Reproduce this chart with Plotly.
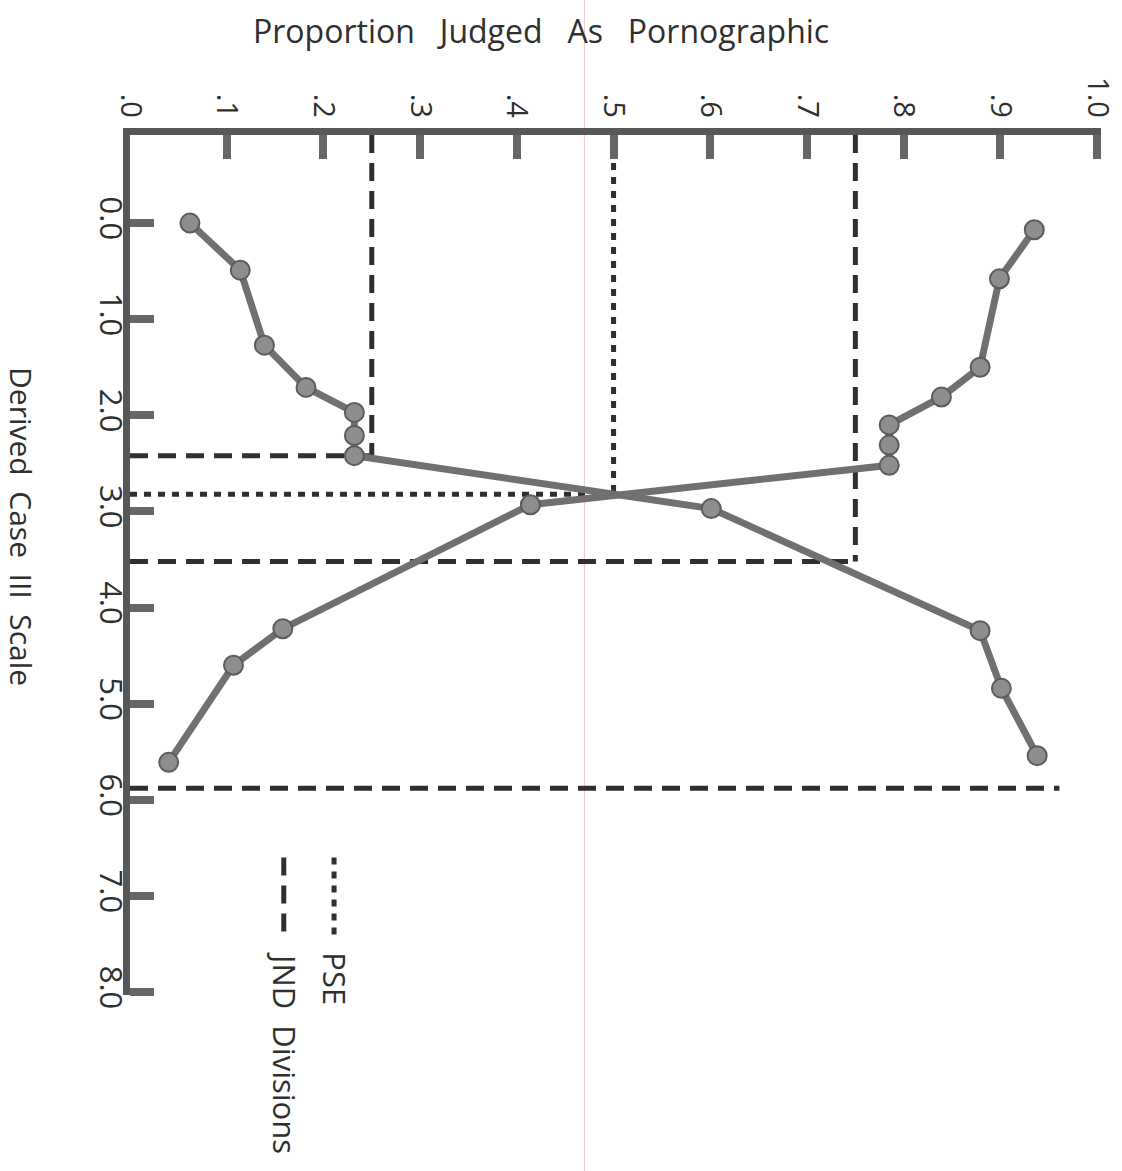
import plotly.graph_objects as go

# Derived Case III scale values (vertical axis) and judged proportions (horizontal axis)
rising_scale = [0.0, 0.49, 1.27, 1.71, 1.97, 2.21, 2.42, 2.97, 4.24, 4.84, 5.54]
rising_prop = [0.062, 0.114, 0.139, 0.182, 0.232, 0.232, 0.232, 0.601, 0.879, 0.901, 0.938]

falling_scale = [0.07, 0.58, 1.50, 1.81, 2.10, 2.31, 2.52, 2.93, 4.22, 4.60, 5.61]
falling_prop = [0.935, 0.899, 0.879, 0.839, 0.785, 0.785, 0.785, 0.414, 0.158, 0.107, 0.040]

# PSE and JND division points: (proportion, scale value)
pse_prop, pse_scale = 0.50, 2.82
jnd_props = [0.25, 0.75]
jnd_scales = [2.42, 3.52]
jnd_last_scale = 5.88
jnd_last_end = 0.961

prop_ticks = [0.0, 0.1, 0.2, 0.3, 0.4, 0.5, 0.6, 0.7, 0.8, 0.9, 1.0]
prop_labels = [".0", ".1", ".2", ".3", ".4", ".5", ".6", ".7", ".8", ".9", "1.0"]
scale_ticks = [0, 1, 2, 3, 4, 5, 6, 7, 8]
scale_labels = ["0.0", "1.0", "2.0", "3.0", "4.0", "5.0", "6.0", "7.0", "8.0"]

TOP = -0.916
FONT = "Open Sans"
INK = "#2f2f2f"
DASH = "18px,10px"
DOT = "7px,7px"
SP = "\u00a0"

fig = go.Figure()


def ref_line(xs, ys, dash):
    fig.add_trace(go.Scatter(x=xs, y=ys, mode="lines", hoverinfo="skip",
                             line=dict(color=INK, width=5, dash=dash),
                             showlegend=False))


# JND division guides
for p, s in zip(jnd_props, jnd_scales):
    ref_line([p, p], [TOP, s], DASH)
    ref_line([0, p], [s, s], DASH)
ref_line([0, jnd_last_end], [jnd_last_scale, jnd_last_scale], DASH)

# PSE guide
ref_line([pse_prop, pse_prop], [TOP, pse_scale], DOT)
ref_line([0, pse_prop], [pse_scale, pse_scale], DOT)

# Key for the guide line styles
ref_line([0.211, 0.211], [6.60, 7.43], DOT)
ref_line([0.159, 0.159], [6.60, 7.43], DASH)

for xs, ys in [(rising_prop, rising_scale), (falling_prop, falling_scale)]:
    fig.add_trace(go.Scatter(
        x=xs, y=ys, mode="lines+markers", showlegend=False,
        line=dict(color="#707070", width=7),
        marker=dict(size=19, color="#8e8e8e", line=dict(color="#5c5c5c", width=2)),
    ))

fig.update_layout(
    width=1122, height=1171,
    margin=dict(l=130, r=21, t=135, b=176, autoexpand=False),
    paper_bgcolor="white", plot_bgcolor="white",
    font=dict(family=FONT, color=INK),
    xaxis=dict(
        side="top", range=[0, 1.004], showgrid=False, zeroline=False,
        showline=True, linewidth=7, linecolor="#575757",
        ticks="inside", ticklen=24, tickwidth=8, tickcolor="#666666",
        tickvals=prop_ticks, ticktext=prop_labels, tickangle=90,
        tickfont=dict(size=29, family=FONT, color=INK),
        ticklabeloverflow="allow", automargin=False,
    ),
    yaxis=dict(
        range=[8.03, TOP], showgrid=False, zeroline=False,
        showline=True, linewidth=7, linecolor="#575757",
        ticks="inside", ticklen=24, tickwidth=8, tickcolor="#666666",
        tickvals=scale_ticks, ticktext=scale_labels, tickangle=90,
        tickfont=dict(size=31, family=FONT, color=INK),
        ticklabelstandoff=-14, ticklabeloverflow="allow", automargin=False,
    ),
    annotations=[
        dict(text=f"Proportion{SP*3}Judged{SP*3}As{SP*3}Pornographic",
             xref="paper", yref="paper", x=0.423, y=1.122,
             xanchor="center", yanchor="middle", showarrow=False,
             font=dict(size=32, family=FONT, color=INK)),
        dict(text=f"Derived{SP*2}Case{SP*2}III{SP*2}Scale",
             xref="paper", yref="paper", x=-0.112, y=0.545,
             xanchor="center", yanchor="middle", textangle=90, showarrow=False,
             font=dict(size=30, family=FONT, color=INK)),
        dict(text="PSE", xref="x", yref="y", x=0.212, y=7.56,
             xanchor="center", yanchor="top", textangle=90, showarrow=False,
             font=dict(size=31, family=FONT, color=INK)),
        dict(text=f"JND{SP*2}Divisions", xref="x", yref="y", x=0.160, y=7.56,
             xanchor="center", yanchor="top", textangle=90, showarrow=False,
             font=dict(size=31, family=FONT, color=INK)),
    ],
    shapes=[
        # faint ruled margin line on the page
        dict(type="line", xref="paper", yref="paper", x0=0.468, x1=0.468,
             y0=-0.21, y1=1.16, line=dict(color="#f3c6d1", width=1), layer="below"),
    ],
)

fig.write_html("out.html")
